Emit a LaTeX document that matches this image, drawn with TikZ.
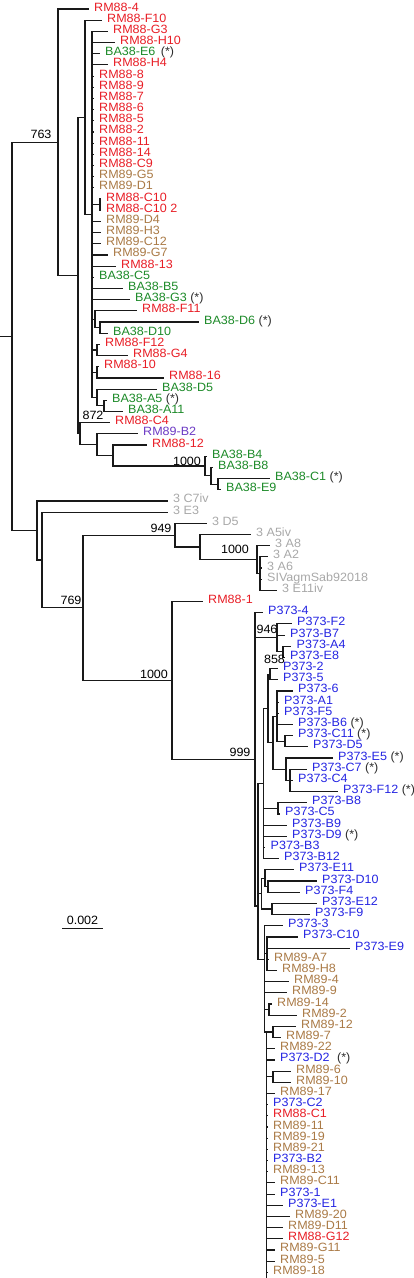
\documentclass[tikz,border=0pt]{standalone}
\usepackage{fontspec}
\newfontfamily\labf{Liberation Sans}[FakeStretch=1.045]
\definecolor{cred}{RGB}{232,30,38}
\definecolor{cgreen}{RGB}{28,138,40}
\definecolor{cbrown}{RGB}{170,122,70}
\definecolor{cblue}{RGB}{36,36,226}
\definecolor{cpurple}{RGB}{108,58,196}
\definecolor{cgray}{RGB}{168,168,168}
\definecolor{cline}{RGB}{25,25,25}
\definecolor{cstar}{RGB}{45,45,45}
\newcommand{\stx}{\hspace{3.5pt}\textcolor{cstar}{(*)}}
\begin{document}
\begin{tikzpicture}[x=1pt,y=-1pt,
  br/.style={draw=cline,line width=1.15pt},
  lf/.style={anchor=west,inner xsep=5.5pt,inner ysep=0pt,text height=5.5pt,text depth=1.5pt,font=\labf\fontsize{12}{12}\selectfont},
  bs/.style={inner sep=0pt,font=\labf\fontsize{12}{12}\selectfont,text=black}]
\useasboundingbox (0,0) rectangle (414,1278);
% ---------- internal nodes ----------
\coordinate (r0) at (0,336.3);
\coordinate (rt) at (12,336.3);
\coordinate (n763) at (58,142.24);
\coordinate (nC) at (78,275.48);
\coordinate (n85) at (85,117.3);
\coordinate (c92) at (92,214.43);
\coordinate (pC10) at (100,204.65);
\coordinate (n95) at (95,319.25);
\coordinate (n100) at (100,327.63);
\coordinate (n97a) at (97,349.99);
\coordinate (n97b) at (97,372.35);
\coordinate (n97c) at (97,397.5);
\coordinate (n105) at (104,405.89);
\coordinate (nD) at (80,433.67);
\coordinate (n97) at (97,444.67);
\coordinate (n113) at (113,455.5);
\coordinate (n1000) at (205,465.98);
\coordinate (n213) at (211,475.77);
\coordinate (n218) at (218,484.15);
\coordinate (nA) at (37,530.4);
\coordinate (nB) at (42,559.95);
\coordinate (n769) at (83,607.8);
\coordinate (n949) at (175,535.16);
\coordinate (n200) at (200,547.03);
\coordinate (nk) at (257,559.6);
\coordinate (ng) at (260,573.59);
\coordinate (nP) at (172,680.5);
\coordinate (n999) at (255,759.4);
\coordinate (n946) at (277,637.88);
\coordinate (pAE) at (283,651.85);
\coordinate (nY) at (258,906);
\coordinate (n263) at (263.5,783.57);
\coordinate (n268) at (268,708.45);
\coordinate (p25) at (270,674.21);
\coordinate (n273) at (273,742.69);
\coordinate (g6) at (277,716.14);
\coordinate (pCD) at (285,741.29);
\coordinate (n286) at (286,769.24);
\coordinate (n290) at (290,780.42);
\coordinate (pBC) at (278,808.37);
\coordinate (n262) at (261.5,893.62);
\coordinate (n265) at (265,878.25);
\coordinate (pDF) at (268,886.63);
\coordinate (pEF) at (272,908.99);
\coordinate (nQ) at (264.5,959.3);
\coordinate (n267) at (267,953.71);
\coordinate (n269) at (269,1009.61);
\coordinate (nR) at (266.5,1031.97);
\coordinate (n273b) at (273,1031.97);
\coordinate (p610) at (273,1076.69);
\coordinate (rEnd) at (266.5,1278);
% ---------- leaves ----------
\node[lf,text=cred] (l1) at (88.5,9.00) {RM88-4};
\node[lf,text=cred] (l2) at (101.5,20.18) {RM88-F10};
\node[lf,text=cred] (l3) at (107.5,31.36) {RM88-G3};
\node[lf,text=cred] (l4) at (114.5,42.54) {RM88-H10};
\node[lf,text=cgreen] (l5) at (99.5,53.72) {BA38-E6\hspace{2pt}\stx};
\node[lf,text=cred] (l6) at (107.5,64.90) {RM88-H4};
\node[lf,text=cred] (l7) at (93.5,76.08) {RM88-8};
\node[lf,text=cred] (l8) at (93.5,87.26) {RM88-9};
\node[lf,text=cred] (l9) at (93.5,98.44) {RM88-7};
\node[lf,text=cred] (l10) at (93.5,109.62) {RM88-6};
\node[lf,text=cred] (l11) at (93.5,120.80) {RM88-5};
\node[lf,text=cred] (l12) at (93.5,131.98) {RM88-2};
\node[lf,text=cred] (l13) at (93.5,143.16) {RM88-11};
\node[lf,text=cred] (l14) at (93.5,154.34) {RM88-14};
\node[lf,text=cred] (l15) at (93.5,165.52) {RM88-C9};
\node[lf,text=cbrown] (l16) at (93.5,176.70) {RM89-G5};
\node[lf,text=cbrown] (l17) at (93.5,187.88) {RM89-D1};
\node[lf,text=cred] (l18) at (100.5,199.06) {RM88-C10};
\node[lf,text=cred] (l19) at (100.5,210.24) {RM88-C10 2};
\node[lf,text=cbrown] (l20) at (100.5,221.42) {RM89-D4};
\node[lf,text=cbrown] (l21) at (100.5,232.60) {RM89-H3};
\node[lf,text=cbrown] (l22) at (100.5,243.78) {RM89-C12};
\node[lf,text=cbrown] (l23) at (107.5,254.96) {RM89-G7};
\node[lf,text=cred] (l24) at (115.5,266.14) {RM88-13};
\node[lf,text=cgreen] (l25) at (93.5,277.32) {BA38-C5};
\node[lf,text=cgreen] (l26) at (122.5,288.50) {BA38-B5};
\node[lf,text=cgreen] (l27) at (129.5,299.68) {BA38-G3\stx};
\node[lf,text=cred] (l28) at (136.5,310.86) {RM88-F11};
\node[lf,text=cgreen] (l29) at (198.5,322.04) {BA38-D6\stx};
\node[lf,text=cgreen] (l30) at (107.5,333.22) {BA38-D10};
\node[lf,text=cred] (l31) at (99.5,344.40) {RM88-F12};
\node[lf,text=cred] (l32) at (127.5,355.58) {RM88-G4};
\node[lf,text=cred] (l33) at (98.5,366.76) {RM88-10};
\node[lf,text=cred] (l34) at (163.5,377.94) {RM88-16};
\node[lf,text=cgreen] (l35) at (156.5,389.12) {BA38-D5};
\node[lf,text=cgreen] (l36) at (106.5,400.30) {BA38-A5\stx};
\node[lf,text=cgreen] (l37) at (122.5,411.48) {BA38-A11};
\node[lf,text=cred] (l38) at (109.5,422.66) {RM88-C4};
\node[lf,text=cpurple] (l39) at (137.5,433.84) {RM89-B2};
\node[lf,text=cred] (l40) at (146.5,445.02) {RM88-12};
\node[lf,text=cgreen] (l41) at (206.5,456.20) {BA38-B4};
\node[lf,text=cgreen] (l42) at (212.5,467.38) {BA38-B8};
\node[lf,text=cgreen] (l43) at (269.5,478.56) {BA38-C1\stx};
\node[lf,text=cgreen] (l44) at (220.5,489.74) {BA38-E9};
\node[lf,text=cgray] (l45) at (167.5,500.92) {3 C7iv};
\node[lf,text=cgray] (l46) at (167.5,512.10) {3 E3};
\node[lf,text=cgray] (l47) at (206.5,523.28) {3 D5};
\node[lf,text=cgray] (l48) at (250.5,534.46) {3 A5iv};
\node[lf,text=cgray] (l49) at (269.5,545.64) {3 A8};
\node[lf,text=cgray] (l50) at (267.5,556.82) {3 A2};
\node[lf,text=cgray] (l51) at (261.5,568.00) {3 A6};
\node[lf,text=cgray] (l52) at (261.5,579.18) {SIVagmSab92018};
\node[lf,text=cgray] (l53) at (276.5,590.36) {3 E11iv};
\node[lf,text=cred] (l54) at (202.5,601.54) {RM88-1};
\node[lf,text=cblue] (l55) at (262.5,612.72) {P373-4};
\node[lf,text=cblue] (l56) at (291.5,623.90) {P373-F2};
\node[lf,text=cblue] (l57) at (284.5,635.08) {P373-B7};
\node[lf,text=cblue] (l58) at (291,646.26) {P373-A4};
\node[lf,text=cblue] (l59) at (284.5,657.44) {P373-E8};
\node[lf,text=cblue] (l60) at (277.5,668.62) {P373-2};
\node[lf,text=cblue] (l61) at (277.5,679.80) {P373-5};
\node[lf,text=cblue] (l62) at (292.5,690.98) {P373-6};
\node[lf,text=cblue] (l63) at (278.5,702.16) {P373-A1};
\node[lf,text=cblue] (l64) at (278.5,713.34) {P373-F5};
\node[lf,text=cblue] (l65) at (292.5,724.52) {P373-B6\stx};
\node[lf,text=cblue] (l66) at (292.5,735.70) {P373-C11\stx};
\node[lf,text=cblue] (l67) at (307.5,746.88) {P373-D5};
\node[lf,text=cblue] (l68) at (332.5,758.06) {P373-E5\stx};
\node[lf,text=cblue] (l69) at (306.5,769.24) {P373-C7\stx};
\node[lf,text=cblue] (l70) at (292.5,780.42) {P373-C4};
\node[lf,text=cblue] (l71) at (337.5,791.60) {P373-F12\stx};
\node[lf,text=cblue] (l72) at (306.5,802.78) {P373-B8};
\node[lf,text=cblue] (l73) at (279.5,813.96) {P373-C5};
\node[lf,text=cblue] (l74) at (286.5,825.14) {P373-B9};
\node[lf,text=cblue] (l75) at (286.5,836.32) {P373-D9\stx};
\node[lf,text=cblue] (l76) at (265,847.50) {P373-B3};
\node[lf,text=cblue] (l77) at (278.5,858.68) {P373-B12};
\node[lf,text=cblue] (l78) at (293.5,869.86) {P373-E11};
\node[lf,text=cblue] (l79) at (316.5,881.04) {P373-D10};
\node[lf,text=cblue] (l80) at (299.5,892.22) {P373-F4};
\node[lf,text=cblue] (l81) at (316.5,903.40) {P373-E12};
\node[lf,text=cblue] (l82) at (309.5,914.58) {P373-F9};
\node[lf,text=cblue] (l83) at (282.5,925.76) {P373-3};
\node[lf,text=cblue] (l84) at (297.5,936.94) {P373-C10};
\node[lf,text=cblue] (l85) at (349.5,948.12) {P373-E9};
\node[lf,text=cbrown] (l86) at (268.5,959.30) {RM89-A7};
\node[lf,text=cbrown] (l87) at (276.5,970.48) {RM89-H8};
\node[lf,text=cbrown] (l88) at (288.5,981.66) {RM89-4};
\node[lf,text=cbrown] (l89) at (286.5,992.84) {RM89-9};
\node[lf,text=cbrown] (l90) at (271.5,1004.02) {RM89-14};
\node[lf,text=cbrown] (l91) at (296.5,1015.20) {RM89-2};
\node[lf,text=cbrown] (l92) at (295.5,1026.38) {RM89-12};
\node[lf,text=cbrown] (l93) at (280.5,1037.56) {RM89-7};
\node[lf,text=cbrown] (l94) at (274.5,1048.74) {RM89-22};
\node[lf,text=cblue] (l95) at (274.5,1059.92) {P373-D2\hspace{4pt}\stx};
\node[lf,text=cbrown] (l96) at (290.5,1071.10) {RM89-6};
\node[lf,text=cbrown] (l97) at (290.5,1082.28) {RM89-10};
\node[lf,text=cbrown] (l98) at (274.5,1093.46) {RM89-17};
\node[lf,text=cblue] (l99) at (267.5,1104.64) {P373-C2};
\node[lf,text=cred] (l100) at (267.5,1115.82) {RM88-C1};
\node[lf,text=cbrown] (l101) at (267.5,1127.00) {RM89-11};
\node[lf,text=cbrown] (l102) at (267.5,1138.18) {RM89-19};
\node[lf,text=cbrown] (l103) at (267.5,1149.36) {RM89-21};
\node[lf,text=cblue] (l104) at (267.5,1160.54) {P373-B2};
\node[lf,text=cbrown] (l105) at (267.5,1171.72) {RM89-13};
\node[lf,text=cbrown] (l106) at (274.5,1182.90) {RM89-C11};
\node[lf,text=cblue] (l107) at (274.5,1194.08) {P373-1};
\node[lf,text=cblue] (l108) at (282.5,1205.26) {P373-E1};
\node[lf,text=cbrown] (l109) at (289.5,1216.44) {RM89-20};
\node[lf,text=cbrown] (l110) at (282.5,1227.62) {RM89-D11};
\node[lf,text=cred] (l111) at (282.5,1238.80) {RM88-G12};
\node[lf,text=cbrown] (l112) at (274.5,1249.98) {RM89-G11};
\node[lf,text=cbrown] (l113) at (274.5,1261.16) {RM89-5};
\node[lf,text=cbrown] (l114) at (267.5,1272.34) {RM89-18};
% ---------- branches ----------
\draw[br] (r0) -- (rt);
\foreach \c in {n763,nA} \draw[br] (rt) |- (\c);
\foreach \c in {l1.west,nC} \draw[br] (n763) |- (\c);
\foreach \c in {n85,nD} \draw[br] (nC) |- (\c);
\foreach \c in {l2.west,c92} \draw[br] (n85) |- (\c);
\foreach \c in {l3,l4,l5,l6,l7,l8,l9,l10,l11,l12,l13,l14,l15,l16,l17,l20,l21,l22,l23,l24,l25,l26,l27} \draw[br] (c92) |- (\c.west);
\foreach \c in {pC10,n95,n97a,n97b,n97c} \draw[br] (c92) |- (\c);
\foreach \c in {l18,l19} \draw[br] (pC10) |- (\c.west);
\foreach \c in {l28.west,n100} \draw[br] (n95) |- (\c);
\foreach \c in {l29,l30} \draw[br] (n100) |- (\c.west);
\foreach \c in {l31,l32} \draw[br] (n97a) |- (\c.west);
\foreach \c in {l33,l34} \draw[br] (n97b) |- (\c.west);
\foreach \c in {l35.west,n105} \draw[br] (n97c) |- (\c);
\foreach \c in {l36,l37} \draw[br] (n105) |- (\c.west);
\foreach \c in {l38.west,n97} \draw[br] (nD) |- (\c);
\foreach \c in {l39.west,n113} \draw[br] (n97) |- (\c);
\foreach \c in {l40.west,n1000} \draw[br] (n113) |- (\c);
\foreach \c in {l41.west,n213} \draw[br] (n1000) |- (\c);
\foreach \c in {l42.west,n218} \draw[br] (n213) |- (\c);
\foreach \c in {l43,l44} \draw[br] (n218) |- (\c.west);
\foreach \c in {l45.west,nB} \draw[br] (nA) |- (\c);
\foreach \c in {l46.west,n769} \draw[br] (nB) |- (\c);
\foreach \c in {n949,nP} \draw[br] (n769) |- (\c);
\foreach \c in {l47.west,n200} \draw[br] (n949) |- (\c);
\foreach \c in {l48.west,nk} \draw[br] (n200) |- (\c);
\foreach \c in {l49.west,ng} \draw[br] (nk) |- (\c);
\foreach \c in {l50,l51,l52,l53} \draw[br] (ng) |- (\c.west);
\foreach \c in {l54.west,n999} \draw[br] (nP) |- (\c);
\foreach \c in {l55.west,n946,nY} \draw[br] (n999) |- (\c);
\foreach \c in {l56.west,l57.west,pAE} \draw[br] (n946) |- (\c);
\foreach \c in {l58,l59} \draw[br] (pAE) |- (\c.west);
\foreach \c in {n263,n262,nQ} \draw[br] (nY) |- (\c);
\foreach \c in {n268,pBC,l74.west,l75.west,l76.west,l77.west} \draw[br] (n263) |- (\c);
\foreach \c in {p25,n273} \draw[br] (n268) |- (\c);
\foreach \c in {l60,l61} \draw[br] (p25) |- (\c.west);
\foreach \c in {g6,n286} \draw[br] (n273) |- (\c);
\foreach \c in {l62.west,l63.west,l64.west,l65.west,pCD} \draw[br] (g6) |- (\c);
\foreach \c in {l66,l67} \draw[br] (pCD) |- (\c.west);
\foreach \c in {l68.west,n290} \draw[br] (n286) |- (\c);
\foreach \c in {l69,l70,l71} \draw[br] (n290) |- (\c.west);
\foreach \c in {l72,l73} \draw[br] (pBC) |- (\c.west);
\foreach \c in {n265,pEF} \draw[br] (n262) |- (\c);
\foreach \c in {l78.west,pDF} \draw[br] (n265) |- (\c);
\foreach \c in {l79,l80} \draw[br] (pDF) |- (\c.west);
\foreach \c in {l81,l82} \draw[br] (pEF) |- (\c.west);
\foreach \c in {l83.west,n267,l88.west,l89.west,n269,nR} \draw[br] (nQ) |- (\c);
\foreach \c in {l84,l85,l86,l87} \draw[br] (n267) |- (\c.west);
\foreach \c in {l90,l91} \draw[br] (n269) |- (\c.west);
\foreach \c in {n273b,p610,rEnd} \draw[br] (nR) |- (\c);
\foreach \c in {l94,l95,l98,l99,l100,l101,l102,l103,l104,l105,l106,l107,l108,l109,l110,l111,l112,l113,l114} \draw[br] (nR) |- (\c.west);
\foreach \c in {l92,l93} \draw[br] (n273b) |- (\c.west);
\foreach \c in {l96,l97} \draw[br] (p610) |- (\c.west);
% ---------- bootstrap values ----------
\node[bs] (b763) at (41,134) {763};
\node[bs] (b872) at (93,415) {872};
\node[bs] (b1000a) at (187,461) {1000};
\node[bs] (b949) at (161,528) {949};
\node[bs] (b1000b) at (235,549) {1000};
\node[bs] (b769) at (71,600) {769};
\node[bs] (b1000c) at (154,674) {1000};
\node[bs] (b946) at (267,629) {946};
\node[bs] (b858) at (274.5,659) {858};
\node[bs] (b999) at (240,752) {999};
% ---------- scale bar ----------
\node[bs] (sbt) at (82.5,920) {0.002};
\coordinate (sb1) at (62,928);
\coordinate (sb2) at (103,928);
\draw[draw=cline,line width=1pt] (sb1) -- (sb2);
\end{tikzpicture}
\end{document}
